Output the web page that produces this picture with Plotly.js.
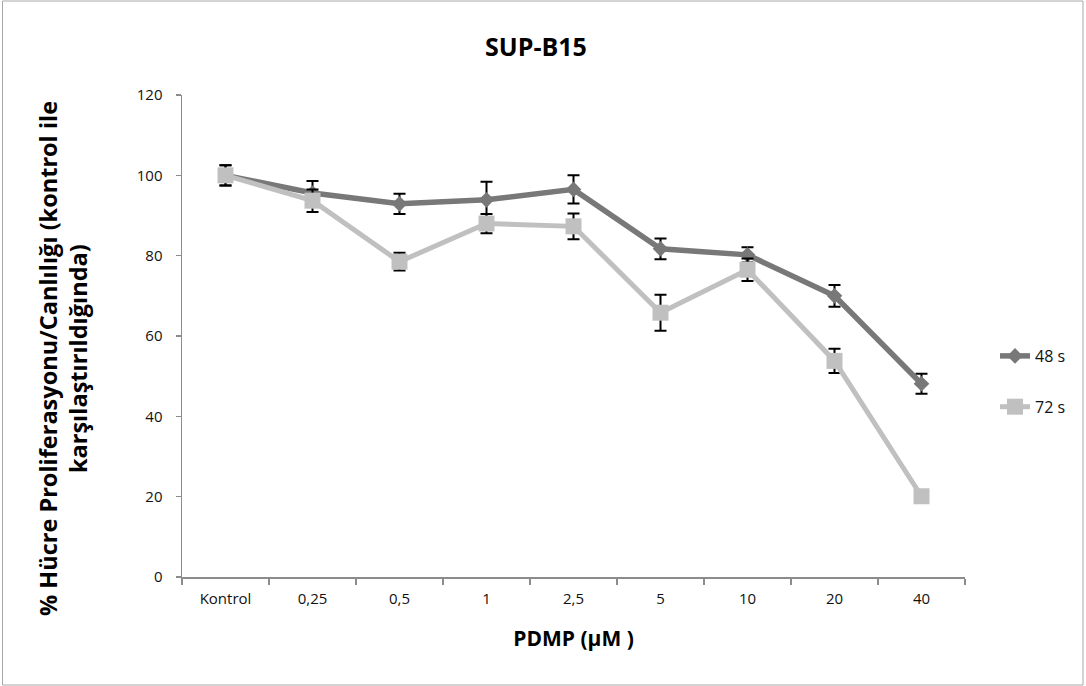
<!DOCTYPE html>
<html>
<head>
<meta charset="utf-8">
<script src="https://cdn.plot.ly/plotly-3.0.1.min.js"></script>
<style>
html,body{margin:0;padding:0;background:#fff;}
#chart{width:1086px;height:686px;}
</style>
</head>
<body>
<div id="chart"></div>
<script>
var categories = ["Kontrol", "0,25", "0,5", "1", "2,5", "5", "10", "20", "40"];
var seriesNames = ["48 s", "72 s"];
var values48 = [100, 95.6, 92.9, 93.9, 96.5, 81.7, 80.2, 70.0, 48.1];
var errors48 = [2.5, 3.0, 2.5, 4.5, 3.5, 2.6, 1.9, 2.7, 2.5];
var values72 = [100, 93.7, 78.5, 88.0, 87.3, 65.8, 76.5, 53.8, 20.1];
var errors72 = [2.5, 2.8, 2.2, 2.4, 3.2, 4.5, 2.8, 3.0, 0.8];
var yTicks = [0, 20, 40, 60, 80, 100, 120];
var yTitleLines = ["% Hücre Proliferasyonu/Canlılığı (kontrol ile", "karşılaştırıldığında)"];

var FONT = "'Open Sans', Lato, sans-serif";
var axisColor = "#8c8c8c";

var trace48 = {
  x: categories, y: values48, name: seriesNames[0], type: "scatter", mode: "lines+markers",
  legendgroup: "a",
  line: {color: "#787878", width: 5.5},
  marker: {symbol: "diamond", size: 12, color: "#787878"},
  error_y: {type: "data", array: errors48, visible: true, color: "#000", thickness: 2, width: 6}
};
var trace72 = {
  x: categories, y: values72, name: seriesNames[1], type: "scatter", mode: "lines+markers",
  legendgroup: "b",
  line: {color: "#c0c0c0", width: 5},
  marker: {symbol: "square", size: 16, color: "#c0c0c0"},
  error_y: {type: "data", array: errors72, visible: true, color: "#000", thickness: 2, width: 6}
};

var L = 182, R = 965, T = 95, B = 577;
var W = R - L, H = B - T;
function px(x){ return (x - L) / W; }
function py(y){ return 1 - (y - T) / H; }

var layout = {
  width: 1086, height: 686,
  paper_bgcolor: "#fff", plot_bgcolor: "#fff",
  margin: {l: L, r: 1086 - R, t: T, b: 686 - B, pad: 0},
  font: {family: FONT, color: "#111", size: 15},
  title: {text: "<b>SUP-B15</b>", font: {family: FONT, size: 25, color: "#000"},
          xref: "container", x: 536/1086, xanchor: "center", yref: "container", y: 1 - 47/686, yanchor: "middle"},
  showlegend: true,
  legend: {x: px(995), xanchor: "left", y: py(381.5), yanchor: "middle",
           font: {family: FONT, size: 16, color: "#111"}, tracegroupgap: 27,
           traceorder: "grouped", bgcolor: "rgba(0,0,0,0)"},
  xaxis: {
    type: "category", range: [-0.5, 8.5], tickson: "boundaries",
    ticks: "outside", ticklen: 6, tickwidth: 1.5, tickcolor: axisColor,
    showline: true, linecolor: axisColor, linewidth: 1.5,
    showgrid: false, zeroline: false, fixedrange: true,
    tickfont: {family: FONT, size: 15, color: "#111"}, ticklabelstandoff: 7,
    title: {text: "<b>PDMP (µM )</b>", font: {family: FONT, size: 21, color: "#000"}, standoff: 25},
    automargin: false
  },
  yaxis: {
    range: [0, 120], tickvals: yTicks, ticktext: yTicks.map(String),
    ticks: "outside", ticklen: 5, tickwidth: 1.5, tickcolor: axisColor,
    showline: true, linecolor: axisColor, linewidth: 1.5,
    showgrid: false, zeroline: false, fixedrange: true,
    tickfont: {family: FONT, size: 15, color: "#111"}, ticklabelstandoff: 10,
    automargin: false
  },
  annotations: [
    {text: "<b>" + yTitleLines[0] + "</b>", textangle: -90, xref: "paper", yref: "paper",
     x: px(48), y: py(359), xanchor: "center", yanchor: "middle", showarrow: false,
     font: {family: FONT, size: 23.5, color: "#000"}},
    {text: "<b>" + yTitleLines[1] + "</b>", textangle: -90, xref: "paper", yref: "paper",
     x: px(78), y: py(359), xanchor: "center", yanchor: "middle", showarrow: false,
     font: {family: FONT, size: 23.5, color: "#000"}}
  ],
  shapes: [{
    type: "rect", xref: "paper", yref: "paper",
    x0: px(2.5), x1: px(1083), y0: py(685), y1: py(1),
    line: {color: "#a8a8a8", width: 1}, fillcolor: "rgba(0,0,0,0)", layer: "below"
  }]
};

Plotly.newPlot("chart", [trace48, trace72], layout, {displayModeBar: false, staticPlot: true});
</script>
</body>
</html>
